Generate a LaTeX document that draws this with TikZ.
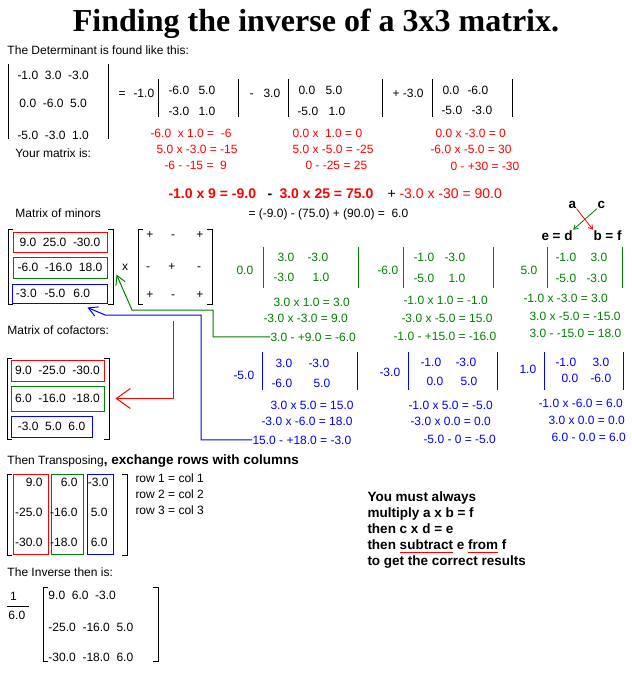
\documentclass[tikz,border=0pt]{standalone}
\usepackage{fontspec}
\setmainfont{Liberation Sans}
\newfontfamily\titlefont{Liberation Serif}
\usetikzlibrary{arrows.meta}
\definecolor{mred}{RGB}{255,0,0}
\definecolor{mgreen}{RGB}{0,128,0}
\definecolor{mblue}{RGB}{0,0,255}
\newsavebox\ulbox
\newcommand\redul[1]{\leavevmode\sbox\ulbox{#1}\rlap{\textcolor{mred}{\rule[-4pt]{\wd\ulbox}{1pt}}}\usebox\ulbox}
\tikzset{
	txt/.style={anchor=base west, inner sep=0pt, font=\fontsize{12}{14}\selectfont},
	ctxt/.style={txt, anchor=base},
	rtxt/.style={txt, anchor=base east},
	btxt/.style={txt, font=\fontsize{13.5}{16}\selectfont\bfseries},
	sumtxt/.style={txt, font=\fontsize{14}{16}\selectfont},
	rowbox/.style={draw, inner sep=0pt, font=\fontsize{12}{14}\selectfont},
	barb/.style={-{Straight Barb[length=9pt,width=10pt]}},
	smallbarb/.style={-{Straight Barb[length=4pt,width=5pt]}, line width=0.8pt}
}
\begin{document}
\begin{tikzpicture}[x=1pt, y=-1pt, line width=1pt]
			\useasboundingbox (0,0) rectangle (632,673);
			\draw (316,31) node[anchor=base, inner sep=0pt, font={\titlefont\bfseries\fontsize{32}{36}\selectfont}] (title) {Finding the inverse of a 3x3 matrix.};
			\draw (7,54) node[txt] (detlabel) {The Determinant is found like this:};
			\draw (15,157) node[txt] (yourlabel) {Your matrix is:};
			\draw (15,217) node[txt] (minlabel) {Matrix of minors};
			\draw (7,334) node[txt] (coflabel) {Matrix of cofactors:};
			\draw (7,464) node[txt] (translabel) {Then Transposing{\fontsize{13.5}{16}\selectfont\bfseries, exchange rows with columns}};
			\draw (7,576) node[txt] (invlabel) {The Inverse then is:};
			\foreach \x / \y / \t [count=\i] in { 17/79/-1.0~~3.0~~-3.0, 19/107/0.0~~-6.0~~5.0, 17/139/-5.0~~-3.0~~1.0,
				118/97/=, 133/97/-1.0, 249/97/-, 263/97/3.0, 392/97/+ -3.0,
				168/94/-6.0, 198/94/5.0, 168/115/-3.0, 198/115/1.0,
				298/94/0.0, 325/94/5.0, 297/115/-5.0, 328/115/1.0,
				442/94/0.0, 467/94/-6.0, 441/114/-5.0, 471/114/-3.0 }
			\draw (\x,\y) node[txt] (det\i) {\t};
			\foreach \x in { 8,108 }
			\draw (\x,64) -- (\x,139);
			\foreach \x in { 158,238,288,382,432,512 }
			\draw (\x,79) -- (\x,117);
			\foreach \x / \y / \t [count=\i] in { 150/137/-6.0 ~x 1.0 = ~-6, 156/153/5.0 x -3.0 = -15, 164/169/-6 - -15 = ~9,
				292/137/0.0 x ~1.0 = 0, 292/153/5.0 x -5.0 = -25, 305/169/0 - -25 = 25,
				435/137/0.0 x -3.0 = 0, 430/153/-6.0 x -5.0 = 30, 450/170/0 - +30 = -30 }
			\draw (\x,\y) node[txt, mred] (rc\i) {\t};
			\draw (168,198) node[sumtxt, mred, font=\fontsize{14}{16}\selectfont\bfseries] (sum1) {-1.0 x 9 = -9.0};
			\draw (267,198) node[sumtxt, font=\fontsize{14}{16}\selectfont\bfseries] (op1) {-};
			\draw (279,198) node[sumtxt, mred, font=\fontsize{14}{16}\selectfont\bfseries] (sum2) {3.0 x 25 = 75.0};
			\draw (387,198) node[sumtxt] (op2) {+};
			\draw (399,198) node[sumtxt, mred] (sum3) {-3.0 x -30 = 90.0};
			\draw (248,217) node[txt] (total) {= (-9.0) - (75.0) + (90.0) = ~6.0};
			\draw (568,208) node[btxt] (a) {a};
			\draw (597,208) node[btxt] (c) {c};
			\draw (541,240) node[btxt] (ed) {e = d};
			\draw (593,240) node[btxt] (bf) {b = f};
			\draw[mred, smallbarb] (a.south east) -- (bf.north west);
			\draw[mgreen, smallbarb] (c.south west) -- (ed.north east);
			\foreach \l / \r / \t / \b in { 8/113/229/304, 138/212/229/304, 7/109/358/439, 7/127/474/555, 43/158/587/661 }
			{
				\draw (\l+5,\t) -- (\l,\t) -- (\l,\b) -- (\l+5,\b);
				\draw (\r-5,\t) -- (\r,\t) -- (\r,\b) -- (\r-5,\b);
			}
			\node[rowbox, draw=mred, minimum width=94pt, minimum height=20pt] (mr) at (60,242) {9.0~~25.0~~-30.0};
			\node[rowbox, draw=mgreen, minimum width=94pt, minimum height=21pt] (mg) at (60,267.5) {-6.0~~-16.0~~18.0};
			\node[rowbox, draw=mblue, minimum height=19pt, text width=87pt, inner xsep=4pt, align=left] (mb) at (59.5,293.5) {-3.0~~-5.0~~6.0};
			\draw (125,270) node[ctxt] (times) {x};
			\foreach \x / \y / \s [count=\i] in { 150/238/+, 173/238/-, 200/238/+, 148/270/-, 172/270/+, 199/270/-, 150/298/+, 173/298/-, 200/298/+ }
			\draw (\x,\y) node[ctxt] (sg\i) {\s};
			\foreach \x / \y / \t [count=\i] in { 236/274/0.0, 277/261/3.0, 307/261/-3.0, 273/281/-3.0, 312/281/1.0,
				377/274/-6.0, 413/261/-1.0, 444/261/-3.0, 413/282/-5.0, 448/282/1.0,
				520/274/5.0, 555/261/-1.0, 590/261/3.0, 555/282/-5.0, 586/282/-3.0 }
			\draw (\x,\y) node[txt, mgreen] (gm\i) {\t};
			\foreach \x in { 263,358,403,493,547,622 }
			\draw[mgreen] (\x,247) -- (\x,288);
			\foreach \x / \y / \t [count=\i] in { 273/306/3.0 x 1.0 = 3.0, 263/322/-3.0 x -3.0 = 9.0, 270/341/3.0 - +9.0 = -6.0,
				403/304/-1.0 x 1.0 = -1.0, 401/322/-3.0 x -5.0 = 15.0, 393/340/-1.0 - +15.0 = -16.0,
				523/302/-1.0 x -3.0 = 3.0, 529/320/3.0 x -5.0 = -15.0, 529/337/3.0 - -15.0 = 18.0 }
			\draw (\x,\y) node[txt, mgreen] (gc\i) {\t};
			\foreach \x / \y / \t [count=\i] in { 233/379/-5.0, 275/367/3.0, 308/367/-3.0, 271/387/-6.0, 313/387/5.0,
				379/376/-3.0, 420/366/-1.0, 455/366/-3.0, 426/385/0.0, 460/385/5.0,
				519/373/1.0, 555/366/-1.0, 592/366/3.0, 561/382/0.0, 590/382/-6.0 }
			\draw (\x,\y) node[txt, mblue] (bm\i) {\t};
			\foreach \x in { 262,357,408,497,544,623 }
			\draw[mblue] (\x,352) -- (\x,390);
			\foreach \x / \y / \t [count=\i] in { 270/409/3.0 x 5.0 = 15.0, 261/425/-3.0 x -6.0 = 18.0, 252/444/15.0 - +18.0 = -3.0,
				408/409/-1.0 x 5.0 = -5.0, 410/425/-3.0 x 0.0 = 0.0, 423/443/-5.0 - 0 = -5.0,
				538/407/-1.0 x -6.0 = 6.0, 548/424/3.0 x 0.0 = 0.0, 551/441/6.0 - 0.0 = 6.0 }
			\draw (\x,\y) node[txt, mblue] (bc\i) {\t};
			\draw[mgreen, barb] (gc3.west) -- ++(-10,0) -| (213,310) -- (132,310) -- ([xshift=9pt,yshift=4pt]mg.south east);
			\draw[mblue, barb] (bc3.west) -- ++(-10,0) -| (201,315) -- (105,315) -- ([xshift=28pt,yshift=-4pt]mb.south);
			\node[rowbox, draw=mred, minimum width=93pt, minimum height=21pt] (cr) at (57.5,370.5) {9.0~~-25.0~~-30.0};
			\node[rowbox, draw=mgreen, minimum width=93pt, minimum height=25pt] (cg) at (57.5,398.5) {6.0~~-16.0~~-18.0};
			\node[rowbox, draw=mblue, minimum width=81pt, minimum height=21pt] (cb) at (51.5,426.5) {-3.0~~5.0~~6.0};
			\coordinate (redstart) at (173,321);
			\draw[mred, -{Straight Barb[length=14pt,width=20pt]}] (redstart) |- ([xshift=11pt]cg.east);
			\node[rowbox, draw=mred, minimum width=35pt, minimum height=80pt] (tr) at (30.5,514) {};
			\node[rowbox, draw=mgreen, minimum width=32pt, minimum height=80pt] (tg) at (67,514) {};
			\node[rowbox, draw=mblue, minimum width=26pt, minimum height=80pt] (tb) at (100,514) {};
			\foreach \x / \y / \t [count=\i] in { 43/486/9.0, 43/516/-25.0, 43/546/-30.0, 78/486/6.0, 78/516/-16.0, 78/546/-18.0,
				109/486/-3.0, 108/516/5.0, 108/546/6.0 }
			\draw (\x,\y) node[rtxt] (tv\i) {\t};
			\foreach \y / \t [count=\i] in { 482/row 1 = col 1, 498/row 2 = col 2, 514/row 3 = col 3 }
			\draw (135,\y) node[txt] (rowcol\i) {\t};
			\foreach \y / \t [count=\i] in { 501/You must always, 517/multiply a x b = f, 533/then c x d = e,
				549/then \redul{subtract} e \redul{from} f, 565/to get the correct results }
			\draw (367,\y) node[btxt] (rule\i) {\t};
			\draw (13.5,600) node[ctxt] (one) {1};
			\draw (8,619) node[txt] (six) {6.0};
			\draw (7,606) -- (29,606);
			\foreach \y / \t [count=\i] in { 599/9.0~~6.0~~-3.0, 631/-25.0~~-16.0~~5.0, 661/-30.0~~-18.0~~6.0 }
			\draw (48,\y) node[txt] (inv\i) {\t};
	\end{tikzpicture}
\end{document}
